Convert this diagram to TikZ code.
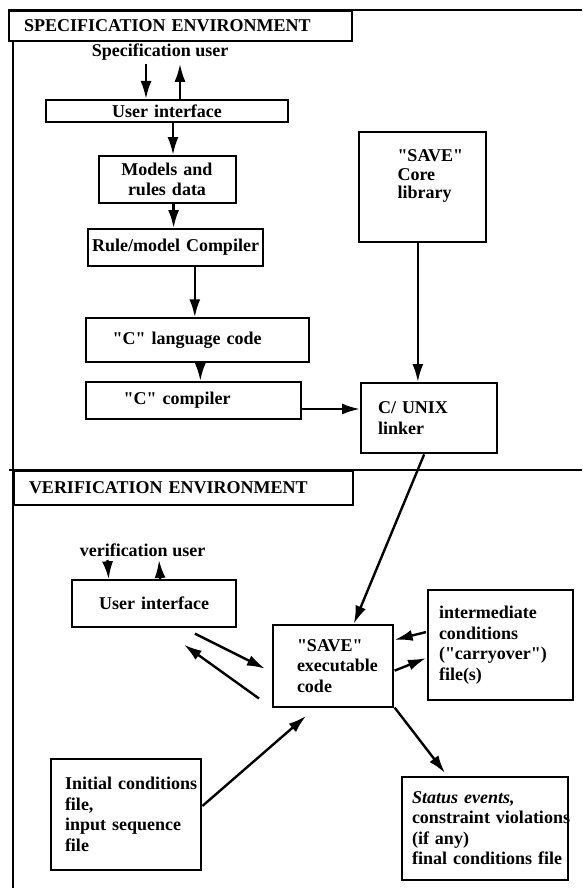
\documentclass[tikz,border=0pt]{standalone}
\usepackage{fontspec}
\setmainfont{Liberation Serif}
\usetikzlibrary{arrows.meta,calc}
\newcommand{\dq}[1]{\textquotedbl#1\textquotedbl}
\newcommand{\nohyph}{\hyphenpenalty=10000\relax\exhyphenpenalty=10000\relax}

\begin{document}
\begin{tikzpicture}[x=1pt,y=-1pt,
  every node/.style={font=\fontsize{18}{20.5}\selectfont\bfseries\nohyph},
  box/.style={draw,line width=2pt,anchor=north west,inner ysep=2pt},
  arr/.style={line width=2.4pt,-{Latex[length=18pt,width=11pt]}},
  frame/.style={line width=2pt}]
  \useasboundingbox (0,0) rectangle (582,888);
  % frame of the two environments
  \draw [frame] (8,10) -- (582,10);
  \draw [frame] (13,40) -- (13,888);
  \draw [frame] (9,469.5) -- (582,469.5);
  % specification environment
  \node [box,text width=313pt,inner xsep=15pt,minimum height=30pt,align=left] (spectitle) at (8,10) {SPECIFICATION~ENVIRONMENT};
  \node (specuser) at (160,52) {Specification user};
  \node [box,text width=234pt,inner xsep=4pt,minimum height=22pt,align=center] (specui) at (45,99) {User interface};
  \node [box,text width=129pt,inner xsep=4pt,minimum height=47pt,align=center] (models) at (97.5,155) {Models~and\\rules~data};
  \node [box,text width=167pt,inner xsep=4pt,minimum height=37pt,align=center] (rulecomp) at (87,228) {Rule/model~Compiler};
  \node [box,text width=169.4pt,inner xsep=27pt,minimum height=43.5pt,align=left] (ccode) at (84.6,317.3) {\dq{C}~language~code};
  \node [box,text width=139.4pt,inner xsep=38pt,minimum height=36.5pt,align=left] (ccomp) at (84.6,381) {\dq{C}~compiler};
  \node [box,inner xsep=39pt,font=\fontsize{18}{18.5}\selectfont\bfseries] (corelib) at (357.5,130.7)
    {\parbox[c][106.3pt][t]{49.5pt}{\vspace*{16pt}\dq{SAVE}\\Core\\library}};
  \node [box,text width=102.3pt,inner xsep=17pt,minimum height=70.4pt,align=left] (linker) at (360,382) {C/~UNIX\\linker};
  \draw [arr] ([xshift=-14pt]specuser.south) -- ([xshift=-14pt]specuser.south |- specui.north);
  \draw [arr] ([xshift=20pt]specuser.south |- specui.north) -- ([xshift=20pt]specuser.south);
  \draw [arr] ([xshift=6pt]specui.south) -- ([xshift=6pt]specui.south |- models.north);
  \draw [arr] ([xshift=6.6pt]models.south) -- ([xshift=6.6pt]models.south |- rulecomp.north);
  \draw [arr] ([xshift=-2.5pt]ccode.north |- rulecomp.south) -- ([xshift=-2.5pt]ccode.north);
  \draw [arr] ([xshift=3pt]ccode.south) -- ([xshift=3pt]ccode.south |- ccomp.north);
  \draw [arr] ([xshift=-4.4pt]corelib.south) -- ([xshift=-4.4pt]corelib.south |- linker.north);
  \draw [arr] ([yshift=-8.75pt]ccomp.east) -- ([yshift=-8.75pt]ccomp.east -| linker.west);
  % verification environment
  \node [box,text width=309pt,inner xsep=15pt,minimum height=34pt,align=left] (vertitle) at (13,469.5) {VERIFICATION~ENVIRONMENT};
  \node (veruser) at (142.5,550) {verification user};
  \node [box,text width=155.7pt,inner xsep=4pt,minimum height=46.4pt,align=center] (verui) at (71.3,579.3) {User~interface};
  \node [box,text width=71.6pt,inner xsep=24pt,minimum height=81.7pt,align=left] (saveexe) at (272,623.8) {\dq{SAVE}\\executable\\code};
  \node [box,text width=122.6pt,inner xsep=11pt,minimum height=110.2pt,align=left] (interm) at (427,589) {intermediate\\conditions\\(\dq{carryover})\\file(s)};
  \node [box,text width=122.4pt,inner xsep=14pt,minimum height=111.4pt,align=left] (initial) at (50,757.8) {Initial~conditions\\file,\\input~sequence\\file};
  \node [box,text width=146.2pt,inner xsep=10pt,minimum height=102.5pt,align=left] (status) at (401,776) {\textit{Status~events,}\\constraint~violations\\(if~any)\\final~conditions~file};
  \draw [arr] ($(linker.south)+(-5,0)$) -- ($(saveexe.north)+(21,0)$);
  \draw [arr] ([xshift=-35pt]veruser.south) -- ([xshift=-45.5pt]verui.north);
  \draw [arr] ([xshift=6pt]verui.north) -- ([xshift=16.5pt]veruser.south);
  \draw [arr] ($(verui.south east)+(-42,6)$) -- ($(saveexe.west)+(-7,3)$);
  \draw [arr] ($(saveexe.south west)+(-13,-9)$) -- ($(verui.south east)+(-53,17)$);
  \draw [arr] ($(interm.west)+(-1,-13)$) -- ($(saveexe.north east)+(1,16)$);
  \draw [arr] ($(saveexe.east)+(1,5)$) -- ($(interm.west)+(-1,13)$);
  \draw [arr] ($(saveexe.south east)+(1,0)$) -- ($(status.north west)+(44,-3)$);
  \draw [arr] ($(initial.east)+(0,-8.5)$) -- ($(saveexe.south west)+(34,8.5)$);
\end{tikzpicture}
\end{document}
